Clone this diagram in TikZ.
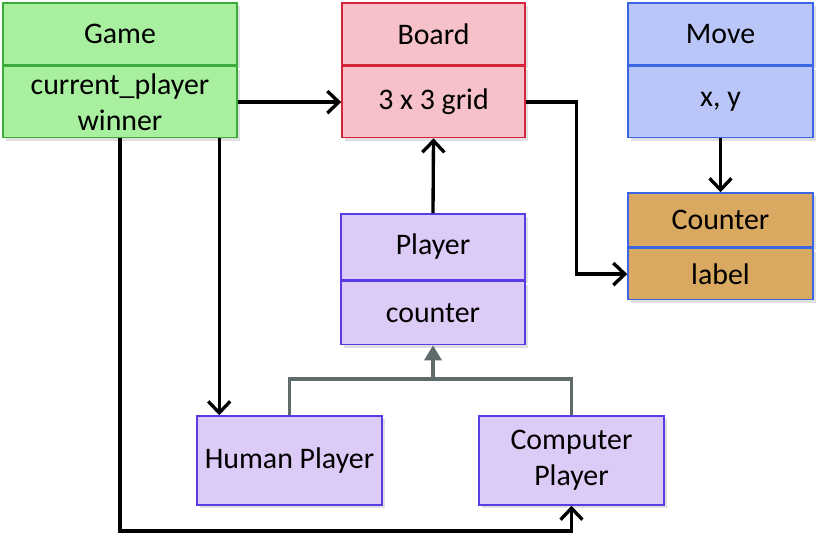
\documentclass[tikz,border=0pt]{standalone}
\usepackage{fontspec}
\setmainfont{Carlito}
\usetikzlibrary{positioning,arrows.meta,shadows}

\definecolor{gamefill}{HTML}{A9EFA0}
\definecolor{gameline}{HTML}{3DAA3D}
\definecolor{boardfill}{HTML}{F6C1C8}
\definecolor{boardline}{HTML}{D4243A}
\definecolor{movefill}{HTML}{B9C6F7}
\definecolor{moveline}{HTML}{3A66E6}
\definecolor{counterfill}{HTML}{D9A962}
\definecolor{playerfill}{HTML}{DCCBF6}
\definecolor{playerline}{HTML}{5A3CE6}
\definecolor{inheritgray}{HTML}{5F6B6B}

\begin{document}
\begin{tikzpicture}[x=0.02cm,y=-0.02cm,
        cls/.style={draw,line width=0.9pt,align=center,inner sep=2pt,
            font=\fontsize{17}{20.5}\selectfont,
            drop shadow={shadow xshift=0.6mm,shadow yshift=-0.6mm,opacity=0.25}},
        game/.style={cls,draw=gameline,fill=gamefill,minimum width=4.68cm},
        board/.style={cls,draw=boardline,fill=boardfill,minimum width=3.66cm},
        move/.style={cls,draw=moveline,fill=movefill,minimum width=3.7cm},
        counterbox/.style={cls,draw=moveline,fill=counterfill,minimum width=3.7cm},
        player/.style={cls,draw=playerline,fill=playerfill,minimum width=3.7cm},
        assoc/.style={line width=1.9pt,-{Straight Barb[length=2.3mm,width=4.4mm]}},
        inherit/.style={line width=1.9pt,draw=inheritgray},
        every node/.style={text=black}]
        \useasboundingbox (0,0) rectangle (826,535);
        % Top row
        \node[game,minimum height=1.24cm] (gamehead) at (120,34) {Game};
        \node[game,minimum height=1.42cm,below=0pt of gamehead] (gamebody) {current\_player\\winner};
        \node[board,minimum height=1.24cm] (boardhead) at (433.5,34) {Board};
        \node[board,minimum height=1.42cm,below=0pt of boardhead] (boardbody) {3 x 3 grid};
        \node[move,minimum height=1.24cm] (movehead) at (720.5,34) {Move};
        \node[move,minimum height=1.42cm,below=0pt of movehead] (movebody) {x, y};
        % Counter
        \node[counterbox,minimum height=1.08cm] (counterhead) at (720.5,220) {Counter};
        \node[counterbox,minimum height=1.02cm,below=0pt of counterhead] (counterbody) {label};
        % Players
        \node[player,minimum width=3.68cm,minimum height=1.32cm] (playerhead) at (433,247) {Player};
        \node[player,minimum width=3.68cm,minimum height=1.26cm,below=0pt of playerhead] (playerbody) {counter};
        \node[player,minimum height=1.78cm] (human) at (289.5,460.5) {Human Player};
        \node[player,minimum height=1.78cm] (comp) at (571.5,460.5) {Computer\\Player};
        % Helper points
        \coordinate (rail) at (433,379);
        \coordinate (bottomrail) at (0,531);
        \coordinate (humanin) at ([xshift=0.46cm]human.north west);
        % Associations
        \draw[assoc] (gamebody.east) -- (boardbody.west);
        \draw[assoc] (boardbody.east) -- ++(51,0) |- (counterbody.west);
        \draw[assoc] (movebody.south) -- (counterhead.north);
        \draw[assoc] (playerhead.north) -- (boardbody.south);
        \draw[assoc] (gamebody.south -| humanin) -- (humanin);
        \draw[assoc] (gamebody.south) -- (gamebody.south |- bottomrail) -| (comp.south);
        % Inheritance
        \draw[inherit] (human.north) |- (rail) -| (comp.north);
        \draw[inherit,-{Triangle[length=3mm,width=3.4mm]},fill=inheritgray] (rail) -- (playerbody.south);
\end{tikzpicture}
\end{document}
